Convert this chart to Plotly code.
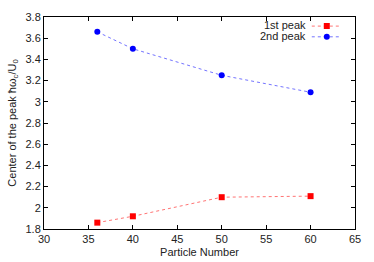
import plotly.graph_objects as go

particles = [36, 40, 50, 60]
peak1 = [1.86, 1.92, 2.10, 2.11]
peak2 = [3.66, 3.50, 3.25, 3.09]
series_names = ["1st peak", "2nd peak"]

FONT = "Liberation Sans, Arial, sans-serif"

fig = go.Figure()
fig.add_trace(go.Scatter(
    x=particles, y=peak1, mode="lines+markers", name=" ", legend="legend",
    line=dict(color="rgba(255,0,0,0.55)", width=1, dash="dot"),
    marker=dict(symbol="square", size=6, color="#ff0000"),
))
fig.add_trace(go.Scatter(
    x=particles, y=peak2, mode="lines+markers", name=" ", legend="legend2",
    line=dict(color="rgba(0,0,255,0.55)", width=1, dash="dot"),
    marker=dict(symbol="circle", size=6, color="#0000ff"),
))

axis_common = dict(
    showgrid=False, zeroline=False, showline=True, linecolor="black", linewidth=1,
    mirror="ticks", ticks="inside", ticklen=4, tickcolor="black", automargin=False,
    tickfont=dict(family=FONT, size=11, color="#222"),
)
fig.update_xaxes(range=[30, 65], dtick=5, title=dict(text="Particle Number", font=dict(family=FONT, size=11, color="#222"), standoff=4), **axis_common)
fig.update_yaxes(range=[1.8, 3.8], dtick=0.2, tickformat="~g",
                 title=dict(text="Center of the peak \u0127\u03c9<sub>c</sub>/U<sub>0</sub>", font=dict(family=FONT, size=11, color="#222"), standoff=6), **axis_common)

text_y = [0.961, 0.911]
for nm, yy in zip(series_names, text_y):
    fig.add_annotation(text=nm, xref="paper", yref="paper", x=0.849, y=yy,
                       xanchor="right", yanchor="middle", showarrow=False,
                       font=dict(family=FONT, size=11, color="#222"))

leg_y = [1.0255, 0.975]
leg = dict(xanchor="left", yanchor="top", bgcolor="rgba(0,0,0,0)",
           font=dict(family=FONT, size=11), itemwidth=30)
fig.update_layout(
    width=374, height=262,
    margin=dict(l=44, r=19, t=12, b=33),
    plot_bgcolor="white", paper_bgcolor="white",
    showlegend=True,
    legend=dict(x=0.845, y=leg_y[0], **leg),
    legend2=dict(x=0.845, y=leg_y[1], **leg),
)
fig.write_html("out.html", config={"displayModeBar": False},
               post_script="document.body.style.margin='0px';document.body.style.padding='0px';")
